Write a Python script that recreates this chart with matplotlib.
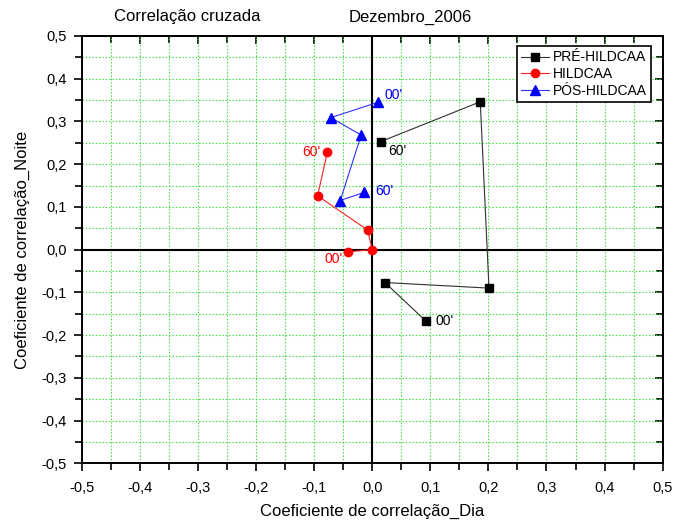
import matplotlib
matplotlib.use("Agg")
import matplotlib.pyplot as plt
from matplotlib.ticker import MultipleLocator, FuncFormatter

plt.rcParams['font.family'] = ['Liberation Sans', 'DejaVu Sans']

# Data (x = Coeficiente de correlação_Dia, y = Coeficiente de correlação_Noite), from 00' to 60'
pre_x = [0.093, 0.022, 0.201, 0.186, 0.015]
pre_y = [-0.168, -0.077, -0.090, 0.346, 0.253]
hil_x = [-0.041, 0.000, -0.008, -0.094, -0.077]
hil_y = [-0.005, 0.000, 0.046, 0.126, 0.229]
pos_x = [0.010, -0.071, -0.019, -0.055, -0.014]
pos_y = [0.345, 0.309, 0.268, 0.115, 0.134]

series_names = ['PRÉ-HILDCAA', 'HILDCAA', 'PÓS-HILDCAA']
start_label = "00'"
end_label = "60'"

fig = plt.figure(figsize=(6.75, 5.24), dpi=100)
ax = fig.add_axes([81.7/675, 1-463.3/524, 581/675, 427.3/524])

ax.set_xlim(-0.5, 0.5)
ax.set_ylim(-0.5, 0.5)

ax.xaxis.set_major_locator(MultipleLocator(0.1))
ax.xaxis.set_minor_locator(MultipleLocator(0.05))
ax.yaxis.set_major_locator(MultipleLocator(0.1))
ax.yaxis.set_minor_locator(MultipleLocator(0.05))
fmt = FuncFormatter(lambda v, p: ('%.1f' % v).replace('.', ',').replace('-0,0', '0,0'))
ax.xaxis.set_major_formatter(fmt)
ax.yaxis.set_major_formatter(fmt)

ax.grid(True, which='both', color='#33dd33', linestyle=(0, (1.2, 1.8)), linewidth=0.8)
ax.set_axisbelow(True)

ax.axhline(0, color='black', linewidth=1.5, zorder=1.5)
ax.axvline(0, color='black', linewidth=1.5, zorder=1.5)

ax.tick_params(which='both', bottom=True, left=True, top=False, right=False,
               direction='out', width=1.2, labelsize=10.5)
ax.tick_params(axis='x', which='major', pad=7)
ax.tick_params(axis='y', which='major', pad=5)
ax.tick_params(which='major', length=6)
ax.tick_params(which='minor', length=5)
# inward ticks for top/right
ax2 = ax.secondary_xaxis('top')
ax2.xaxis.set_major_locator(MultipleLocator(0.1))
ax2.xaxis.set_minor_locator(MultipleLocator(0.05))
ax2.tick_params(which='both', direction='in', width=1.2, labeltop=False)
ax2.tick_params(which='major', length=6)
ax2.tick_params(which='minor', length=5)
ax2.spines['top'].set_linewidth(1.4)
ax3 = ax.secondary_yaxis('right')
ax3.yaxis.set_major_locator(MultipleLocator(0.1))
ax3.yaxis.set_minor_locator(MultipleLocator(0.05))
ax3.tick_params(which='both', direction='in', width=1.2, labelright=False)
ax3.tick_params(which='major', length=6)
ax3.tick_params(which='minor', length=5)
ax3.spines['right'].set_linewidth(1.4)

for s in ax.spines.values():
    s.set_linewidth(1.4)

ax.plot(pre_x, pre_y, color='#303030', linewidth=0.8, marker='s', markersize=5.5,
        markerfacecolor='black', markeredgecolor='black', label=series_names[0], zorder=3)
ax.plot(hil_x, hil_y, color='#ff2020', linewidth=0.8, marker='o', markersize=6,
        markerfacecolor='#ff0000', markeredgecolor='#ff0000', label=series_names[1], zorder=3)
ax.plot(pos_x, pos_y, color='#3030ff', linewidth=0.8, marker='^', markersize=7.5,
        markerfacecolor='#0000ff', markeredgecolor='#0000ff', label=series_names[2], zorder=3)

tkw = dict(textcoords='offset points', fontsize=10, va='center')
ax.annotate(start_label, (pre_x[0], pre_y[0]), xytext=(7, 0), ha='left', color='black', **tkw)
ax.annotate(end_label, (pre_x[-1], pre_y[-1]), xytext=(5, -7), ha='left', color='black', **tkw)
ax.annotate(end_label, (hil_x[-1], hil_y[-1]), xytext=(-5, 0), ha='right', color='#ff0000', **tkw)
ax.annotate(start_label, (hil_x[0], hil_y[0]), xytext=(-4, -5), ha='right', color='#ff0000', **tkw)
ax.annotate(start_label, (pos_x[0], pos_y[0]), xytext=(5, 5), ha='left', color='#0000ff', **tkw)
ax.annotate(end_label, (pos_x[-1], pos_y[-1]), xytext=(8, 1), ha='left', color='#0000ff', **tkw)

leg = ax.legend(loc='upper right', bbox_to_anchor=(0.98, 0.976), fontsize=10,
                frameon=True, fancybox=False, edgecolor='black', framealpha=1,
                borderpad=0.3, labelspacing=0.2, handlelength=2.0, handletextpad=0.3,
                borderaxespad=0)
leg.get_frame().set_linewidth(1.2)

ax.set_xlabel('Coeficiente de correlação_Dia', fontsize=12, labelpad=6)
ax.set_ylabel('Coeficiente de correlação_Noite', fontsize=12, labelpad=8)

fig.text(187/675, 1-17/524, 'Correlação cruzada', ha='center', va='center', fontsize=12)
fig.text(410/675, 1-17/524, 'Dezembro_2006', ha='center', va='center', fontsize=12)

fig.savefig('out.png', dpi=100)
